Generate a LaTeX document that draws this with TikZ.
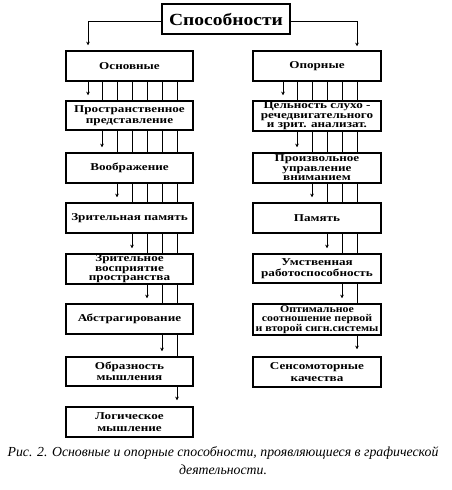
\documentclass[tikz,border=0pt]{standalone}
\usepackage{fontspec}
\setmainfont{Liberation Serif}
\newfontfamily\boxfont{Liberation Serif}[FakeStretch=1.25]
\newfontfamily\titlefont{Liberation Serif}[FakeStretch=1.15]
\usetikzlibrary{calc,arrows.meta}
\tikzset{
  bx/.style={draw, line width=1.5pt, align=center, inner sep=0pt,
    font=\boxfont\bfseries\fontsize{10.5}{9.6}\selectfont},
  twoline/.style={font=\boxfont\bfseries\fontsize{10.5}{11.5}\selectfont},
  lbx/.style={bx, minimum width=127pt},
  rbx/.style={bx, minimum width=128pt},
  conn/.style={line width=1pt},
  arr/.style={conn, -{Stealth[length=3.5pt,width=3.5pt]}}
}
\newcommand{\linkrow}[4]{%
  \draw[arr] ($(#1.south west)+(#3,0)$) -- ($(#2.north west)+(#3,5)$);
  \foreach \dx in {#4} {\draw[conn] ($(#1.south west)+(\dx,0)$) -- ($(#2.north west)+(\dx,0)$);}%
}
\begin{document}
\begin{tikzpicture}[x=1pt,y=1pt]
\useasboundingbox (0,0) rectangle (452,-490);
% title
\node[bx, minimum width=128pt, minimum height=30pt, font=\titlefont\bfseries\fontsize{17}{18}\selectfont] (T) at (226,-19) {Способности};
% left column
\node[lbx, minimum height=30pt] (L1) at (129.5,-66) {Основные};
\node[lbx, twoline, minimum height=29pt] (L2) at (129.5,-115.5) {Пространственное\\представление};
\node[lbx, minimum height=30pt] (L3) at (129.5,-168) {Воображение};
\node[lbx, minimum height=30pt] (L4) at (129.5,-218) {Зрительная память};
\node[lbx, minimum height=30pt] (L5) at (129.5,-269) {Зрительное\\восприятие\\пространства};
\node[lbx, minimum height=30pt] (L6) at (129.5,-319) {Абстрагирование};
\node[lbx, twoline, minimum height=29pt] (L7) at (129.5,-371.5) {Образность\\мышления};
\node[lbx, twoline, minimum height=30pt] (L8) at (129.5,-422) {Логическое\\мышление};
% right column
\node[rbx, minimum height=30pt] (R1) at (317,-66) {Опорные};
\node[rbx, minimum height=30pt] (R2) at (317,-116) {Цельность слухо -\\речедвигательного\\и зрит. анализат.};
\node[rbx, minimum height=30pt] (R3) at (317,-168) {Произвольное\\управление\\вниманием};
\node[rbx, minimum height=30pt] (R4) at (317,-218) {Память};
\node[rbx, twoline, minimum height=29pt] (R5) at (317,-268.5) {Умственная\\работоспособность};
\node[rbx, minimum height=31pt, font=\titlefont\bfseries\fontsize{10.3}{9.4}\selectfont] (R6) at (317,-319.5) {Оптимальное\\соотношение первой\\и второй сигн.системы};
\node[rbx, twoline, minimum height=30pt] (R7) at (317,-372) {Сенсомоторные\\качества};
% title arrows
\draw[arr] ([yshift=-2pt]T.west) -| ($(L1.north west)+(22.75,5)$);
\draw[arr] ([yshift=-2pt]T.east) -| ($(R1.north west)+(104.75,4)$);
% left links
\linkrow{L1}{L2}{22.75}{36.75,51.75,66.75,81.75,96.75,111.75}
\linkrow{L2}{L3}{36.75}{51.75,66.75,81.75,96.75,111.75}
\linkrow{L3}{L4}{51.75}{66.75,81.75,96.75,111.75}
\linkrow{L4}{L5}{66.75}{81.75,96.75,111.75}
\linkrow{L5}{L6}{81.75}{96.75,111.75}
\linkrow{L6}{L7}{96.75}{111.75}
\draw[arr] ($(L7.south west)+(111.75,0)$) -- ($(L8.north west)+(111.75,6)$);
% right links
\linkrow{R1}{R2}{30.75}{44.75,59.75,74.75,89.75,104.75}
\linkrow{R2}{R3}{44.75}{59.75,74.75,89.75,104.75}
\linkrow{R3}{R4}{59.75}{74.75,89.75,104.75}
\linkrow{R4}{R5}{74.75}{89.75,104.75}
\linkrow{R5}{R6}{89.75}{104.75}
\draw[arr] ($(R6.south west)+(104.75,0)$) -- ($(R7.north west)+(104.75,7)$);
% caption
\node[align=center, font=\itshape\fontsize{13.8}{18}\selectfont] (cap) at (223,-461) {Рис. 2. Основные и опорные способности, проявляющиеся в графической\\деятельности.};
\end{tikzpicture}
\end{document}
